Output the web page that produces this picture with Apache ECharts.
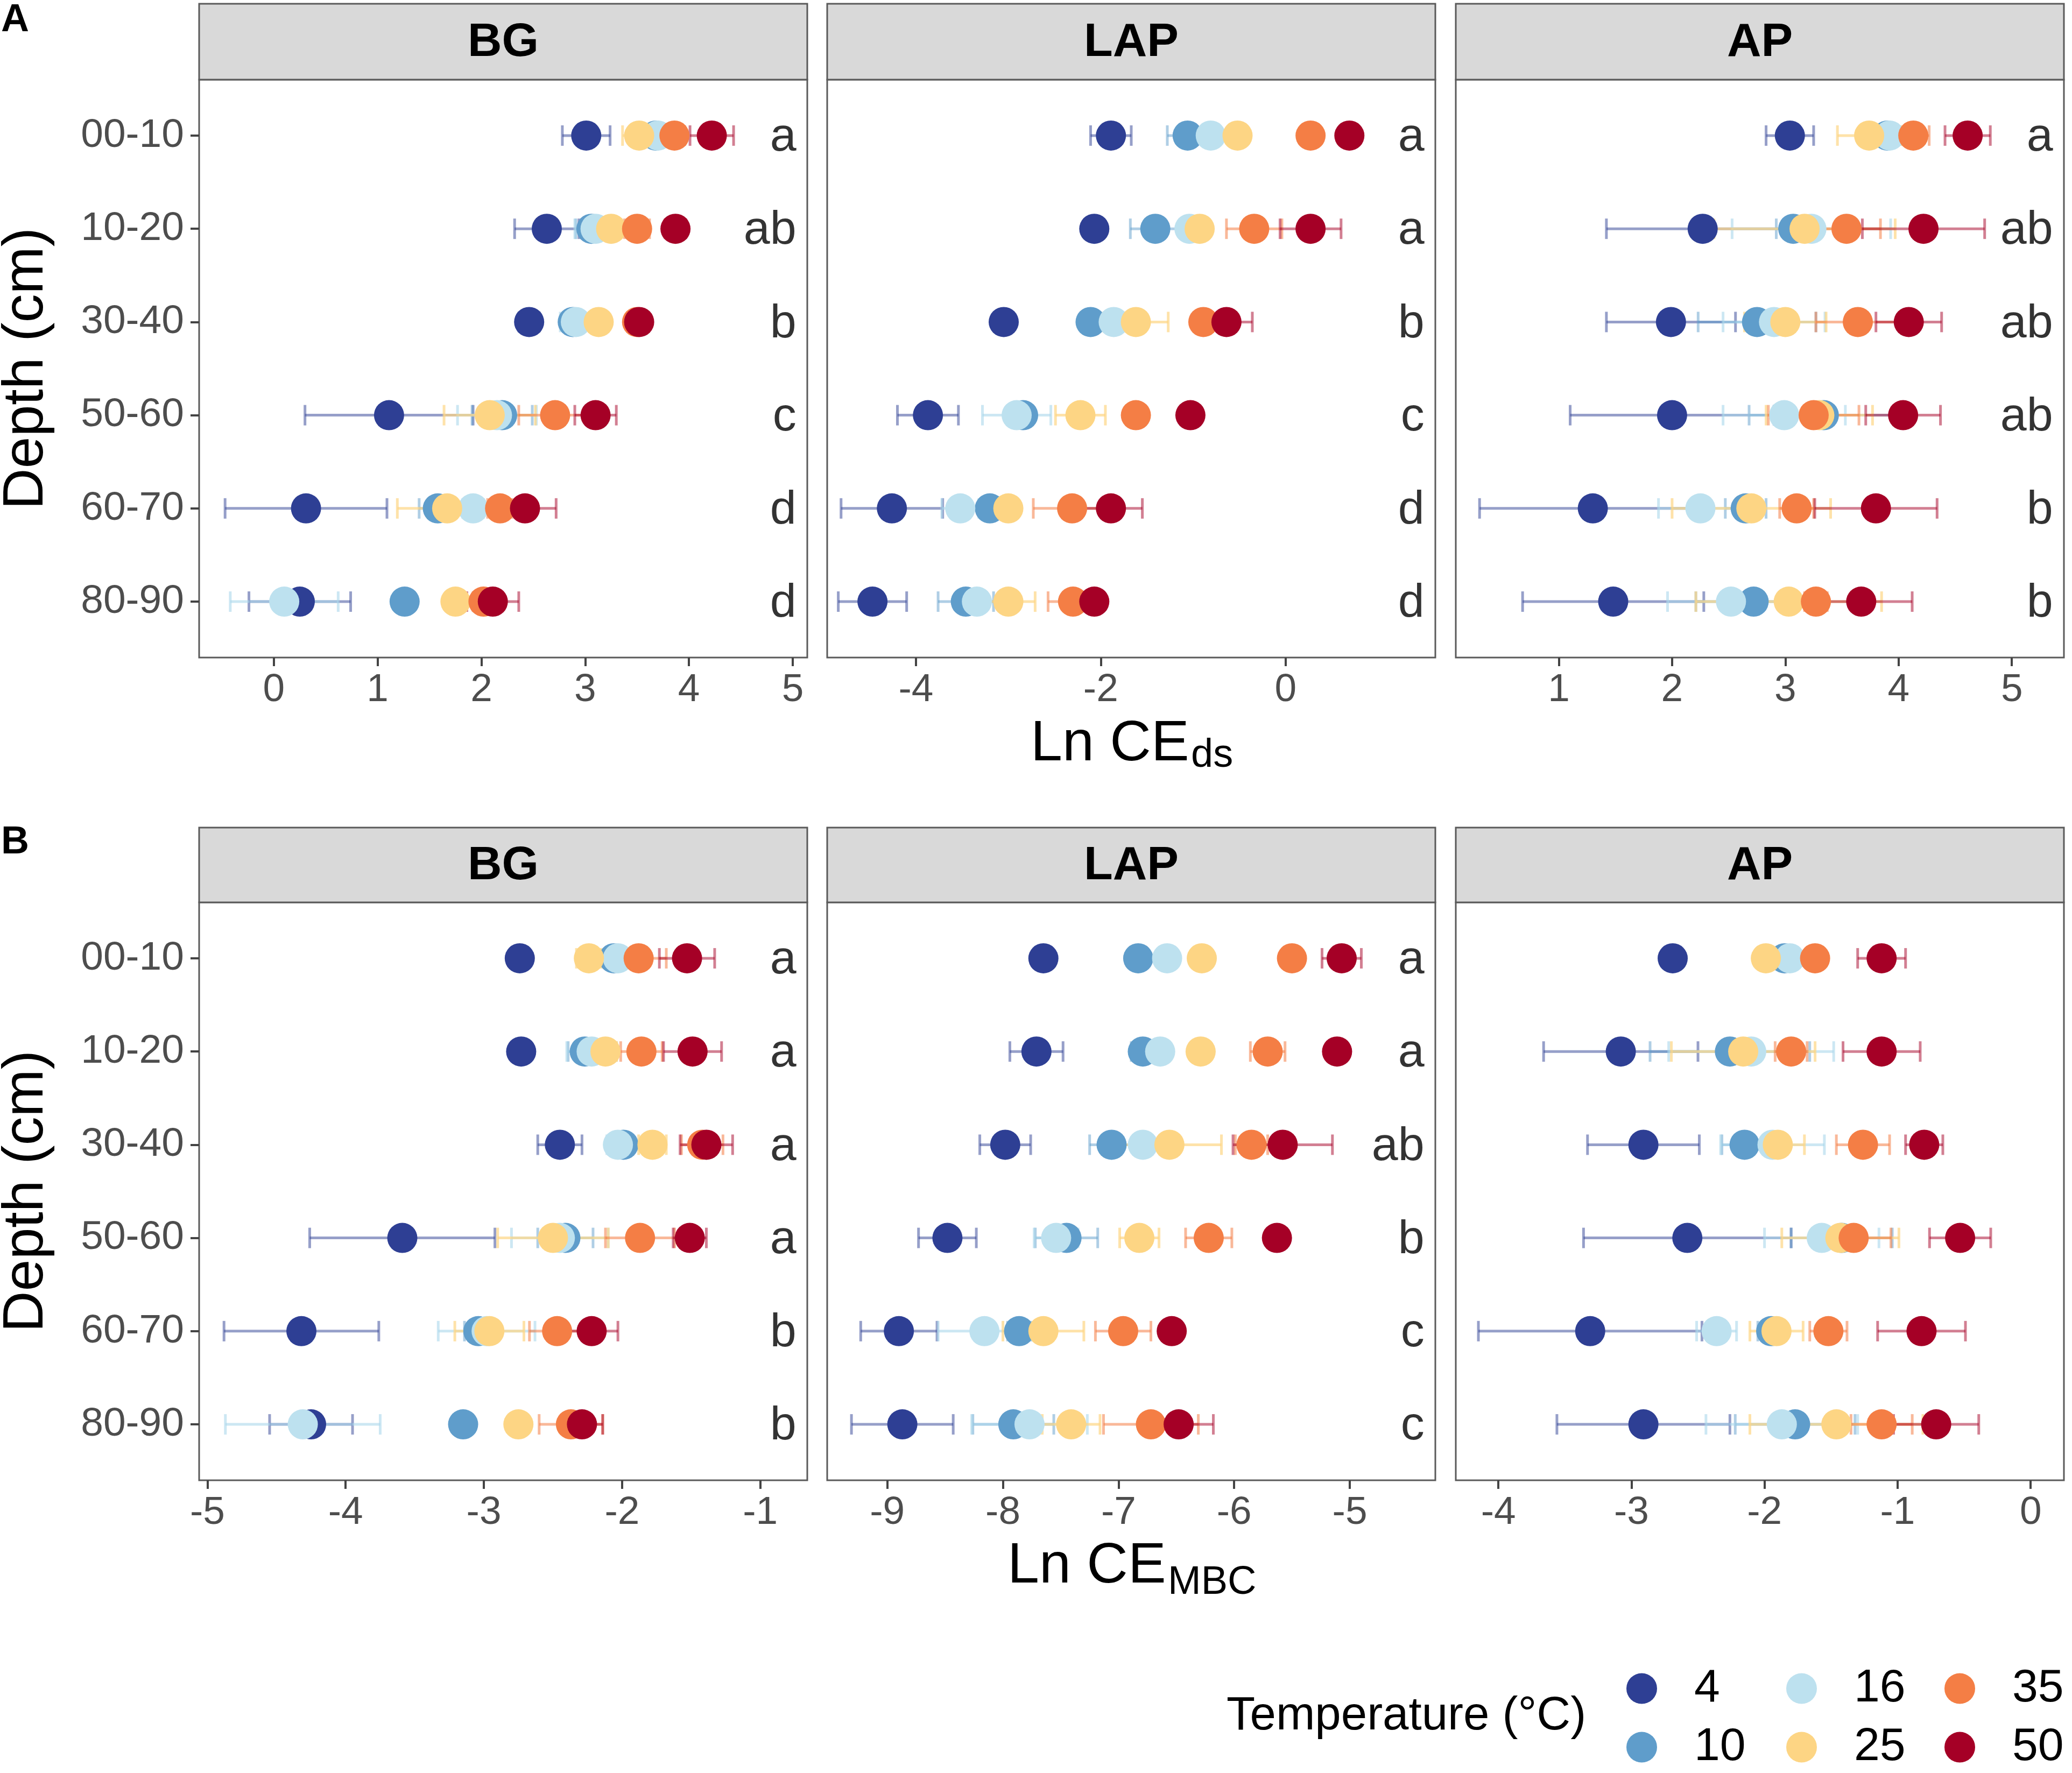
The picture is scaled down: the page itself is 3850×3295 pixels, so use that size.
<!DOCTYPE html>
<html><head><meta charset="utf-8">
<script src="https://cdn.jsdelivr.net/npm/echarts@6/dist/echarts.min.js"></script>
<style>html,body{margin:0;padding:0;background:#fff}#c{width:3850px;height:3295px}</style>
</head><body><div id="c"></div>
<script>
// ---------- DATA ----------
const depths = ['00-10', '10-20', '30-40', '50-60', '60-70', '80-90'];
const temps = ['4', '10', '16', '25', '35', '50'];
const enzymes = ['BG', 'LAP', 'AP'];

const ticksDsBG = [0, 1, 2, 3, 4, 5];
const ticksDsLAP = [-4, -2, 0];
const ticksDsAP = [1, 2, 3, 4, 5];
const ticksMbcBG = [-5, -4, -3, -2, -1];
const ticksMbcLAP = [-9, -8, -7, -6, -5];
const ticksMbcAP = [-4, -3, -2, -1, 0];

// rows = temperatures (4,10,16,25,35,50), columns = depths
const dsBG_mean = [
  [3.01, 2.63, 2.46, 1.11, 0.31, 0.25],
  [3.68, 3.06, 2.88, 2.20, 1.58, 1.26],
  [3.70, 3.10, 2.91, 2.15, 1.92, 0.10],
  [3.52, 3.25, 3.13, 2.08, 1.67, 1.75],
  [3.86, 3.50, 3.50, 2.71, 2.18, 2.02],
  [4.22, 3.87, 3.52, 3.10, 2.42, 2.11]
];
const dsBG_se = [
  [0.23, 0.31, 0.10, 0.81, 0.78, 0.49],
  [0.08, 0.15, 0.08, 0.29, 0.18, 0.06],
  [0.08, 0.20, 0.15, 0.38, 0.10, 0.52],
  [0.16, 0.10, 0.08, 0.44, 0.48, 0.08],
  [0.10, 0.12, 0.08, 0.35, 0.12, 0.10],
  [0.21, 0.10, 0.08, 0.20, 0.30, 0.25]
];
const dsLAP_mean = [
  [-1.89, -2.07, -3.05, -3.87, -4.26, -4.47],
  [-1.06, -1.41, -2.11, -2.84, -3.20, -3.46],
  [-0.81, -1.04, -1.86, -2.91, -3.52, -3.34],
  [-0.52, -0.93, -1.62, -2.22, -3.00, -3.00],
  [0.27, -0.34, -0.89, -1.62, -2.31, -2.30],
  [0.69, 0.27, -0.64, -1.03, -1.89, -2.07]
];
const dsLAP_se = [
  [0.22, 0.08, 0.05, 0.33, 0.55, 0.37],
  [0.22, 0.27, 0.05, 0.10, 0.10, 0.30],
  [0.08, 0.10, 0.05, 0.37, 0.20, 0.10],
  [0.05, 0.05, 0.35, 0.27, 0.10, 0.29],
  [0.05, 0.30, 0.08, 0.05, 0.42, 0.27],
  [0.05, 0.33, 0.28, 0.05, 0.34, 0.05]
];
const dsAP_mean = [
  [3.04, 2.27, 1.99, 2.00, 1.30, 1.48],
  [3.90, 3.07, 2.75, 3.34, 2.65, 2.72],
  [3.92, 3.23, 2.90, 2.99, 2.25, 2.52],
  [3.74, 3.17, 3.00, 3.30, 2.70, 3.03],
  [4.13, 3.54, 3.64, 3.25, 3.10, 3.27],
  [4.61, 4.22, 4.09, 4.04, 3.80, 3.67]
];
const dsAP_se = [
  [0.21, 0.85, 0.57, 0.90, 1.00, 0.80],
  [0.10, 0.15, 0.52, 0.66, 0.18, 0.51],
  [0.10, 0.70, 0.45, 0.54, 0.37, 0.56],
  [0.28, 0.80, 0.36, 0.47, 0.70, 0.82],
  [0.14, 0.30, 0.37, 0.40, 0.15, 0.10],
  [0.20, 0.54, 0.29, 0.33, 0.54, 0.45]
];
const mbcBG_mean = [
  [-2.74, -2.73, -2.45, -3.59, -4.32, -4.25],
  [-2.06, -2.27, -1.99, -2.41, -3.04, -3.15],
  [-2.03, -2.22, -2.03, -2.45, -2.98, -4.31],
  [-2.24, -2.12, -1.78, -2.50, -2.96, -2.75],
  [-1.88, -1.86, -1.42, -1.87, -2.47, -2.37],
  [-1.53, -1.49, -1.39, -1.51, -2.22, -2.29]
];
const mbcBG_se = [
  [0.03, 0.03, 0.16, 0.67, 0.56, 0.30],
  [0.05, 0.12, 0.05, 0.20, 0.10, 0.05],
  [0.05, 0.18, 0.08, 0.35, 0.35, 0.56],
  [0.09, 0.08, 0.10, 0.40, 0.25, 0.05],
  [0.20, 0.15, 0.15, 0.25, 0.20, 0.23],
  [0.20, 0.21, 0.19, 0.12, 0.19, 0.15]
];
const mbcLAP_mean = [
  [-7.65, -7.71, -7.98, -8.48, -8.90, -8.87],
  [-6.83, -6.79, -7.06, -7.45, -7.86, -7.91],
  [-6.58, -6.64, -6.79, -7.54, -8.16, -7.77],
  [-6.28, -6.29, -6.56, -6.82, -7.65, -7.41],
  [-5.50, -5.71, -5.85, -6.22, -6.96, -6.72],
  [-5.07, -5.11, -5.58, -5.63, -6.54, -6.48]
];
const mbcLAP_se = [
  [0.05, 0.23, 0.22, 0.25, 0.33, 0.44],
  [0.05, 0.10, 0.19, 0.27, 0.10, 0.35],
  [0.05, 0.05, 0.05, 0.19, 0.40, 0.50],
  [0.05, 0.05, 0.45, 0.17, 0.35, 0.25],
  [0.05, 0.15, 0.14, 0.20, 0.24, 0.41],
  [0.17, 0.05, 0.43, 0.05, 0.05, 0.30]
];
const mbcAP_mean = [
  [-2.69, -3.08, -2.91, -2.58, -3.31, -2.91],
  [-1.85, -2.26, -2.15, -1.42, -1.95, -1.77],
  [-1.81, -2.10, -1.94, -1.57, -2.36, -1.87],
  [-1.99, -2.16, -1.90, -1.43, -1.91, -1.46],
  [-1.62, -1.80, -1.26, -1.33, -1.52, -1.12],
  [-1.12, -1.12, -0.80, -0.53, -0.82, -0.71]
];
const mbcAP_se = [
  [0.06, 0.58, 0.42, 0.78, 0.84, 0.65],
  [0.05, 0.60, 0.17, 0.38, 0.10, 0.45],
  [0.05, 0.62, 0.39, 0.43, 0.15, 0.57],
  [0.05, 0.54, 0.20, 0.44, 0.20, 0.65],
  [0.05, 0.12, 0.20, 0.28, 0.14, 0.23],
  [0.18, 0.29, 0.14, 0.23, 0.33, 0.32]
];
const dsBG_letters = ['a', 'ab', 'b', 'c', 'd', 'd'];
const dsLAP_letters = ['a', 'a', 'b', 'c', 'd', 'd'];
const dsAP_letters = ['a', 'ab', 'ab', 'ab', 'b', 'b'];
const mbcBG_letters = ['a', 'a', 'a', 'a', 'b', 'b'];
const mbcLAP_letters = ['a', 'a', 'ab', 'b', 'c', 'c'];
const mbcAP_letters = [];

// ---------- STYLE / LAYOUT ----------
const colors = ['#2E3F94', '#5F9DCB', '#BDE1EF', '#FDD584', '#F47E45', '#A50026'];
const errColors = ['rgba(46,63,148,0.5)', 'rgba(95,157,203,0.5)', 'rgba(170,215,235,0.6)',
  'rgba(253,213,132,0.7)', 'rgba(244,126,69,0.55)', 'rgba(165,0,38,0.5)'];
const FONT = '"Liberation Sans", Arial, Helvetica, sans-serif';
const colLeft = [370, 1537, 2705];
const panelW = 1130, panelH = 1074;
const rowTop = [148, 1677];
const stripTop = [7, 1538];

const panels = [
  { mean: dsBG_mean, se: dsBG_se, letters: dsBG_letters, ticks: ticksDsBG, range: [-0.72, 5.14] },
  { mean: dsLAP_mean, se: dsLAP_se, letters: dsLAP_letters, ticks: ticksDsLAP, range: [-4.96, 1.62] },
  { mean: dsAP_mean, se: dsAP_se, letters: dsAP_letters, ticks: ticksDsAP, range: [0.09, 5.46] },
  { mean: mbcBG_mean, se: mbcBG_se, letters: mbcBG_letters, ticks: ticksMbcBG, range: [-5.06, -0.66] },
  { mean: mbcLAP_mean, se: mbcLAP_se, letters: mbcLAP_letters, ticks: ticksMbcLAP, range: [-9.52, -4.26] },
  { mean: mbcAP_mean, se: mbcAP_se, letters: mbcAP_letters, ticks: ticksMbcAP, range: [-4.32, 0.25] }
];

const grid = [], xAxis = [], yAxis = [], scatterSeries = [], errSeries = [], letterSeries = [];
const graphic = [];
const rowIdx = depths.map((d, i) => i);

panels.forEach((p, i) => {
  const row = Math.floor(i / 3), col = i % 3;
  grid.push({ left: colLeft[col], top: rowTop[row], width: panelW, height: panelH,
    show: true, borderColor: '#5a5a5a', borderWidth: 3, backgroundColor: '#fff' });
  xAxis.push({
    type: 'value', gridIndex: i, min: p.range[0], max: p.range[1], position: 'bottom',
    axisLine: { show: false, onZero: false }, splitLine: { show: false },
    axisTick: { show: true, length: 16, customValues: p.ticks, lineStyle: { color: '#444', width: 4 } },
    axisLabel: { customValues: p.ticks, fontSize: 73, color: '#4D4D4D', fontFamily: FONT, margin: 24 }
  });
  yAxis.push({
    type: 'value', gridIndex: i, min: -0.6, max: depths.length - 0.4, inverse: true, position: 'left',
    axisLine: { show: false, onZero: false }, splitLine: { show: false },
    axisTick: { show: col === 0, length: 16, customValues: rowIdx, lineStyle: { color: '#444', width: 4 } },
    axisLabel: { show: col === 0, customValues: rowIdx, formatter: v => depths[Math.round(v)],
      fontSize: 75, color: '#4D4D4D', fontFamily: FONT, margin: 28 }
  });
  temps.forEach((t, k) => {
    errSeries.push({
      type: 'custom', xAxisIndex: i, yAxisIndex: i, silent: true, z: 2,
      data: p.mean[k].map((v, d) => [v - p.se[k][d], v + p.se[k][d], d]),
      encode: { x: [0, 1], y: 2 },
      renderItem: (params, api) => {
        const yv = api.value(2);
        const a = api.coord([api.value(0), yv]);
        const b = api.coord([api.value(1), yv]);
        const h = 19;
        const st = { stroke: errColors[k], lineWidth: 5, fill: null };
        return { type: 'group', children: [
          { type: 'line', shape: { x1: a[0], y1: a[1], x2: b[0], y2: b[1] }, style: st },
          { type: 'line', shape: { x1: a[0], y1: a[1] - h, x2: a[0], y2: a[1] + h }, style: st },
          { type: 'line', shape: { x1: b[0], y1: b[1] - h, x2: b[0], y2: b[1] + h }, style: st }
        ] };
      }
    });
    scatterSeries.push({
      type: 'scatter', name: t, xAxisIndex: i, yAxisIndex: i, z: 3,
      data: p.mean[k].map((v, d) => [v, d]),
      symbol: 'circle', symbolSize: 56,
      itemStyle: { color: colors[k], opacity: 1 },
      emphasis: { disabled: true }
    });
  });
  if (p.letters.length) {
    const xPos = p.range[1] - (p.range[1] - p.range[0]) * 0.018;
    letterSeries.push({
      type: 'scatter', xAxisIndex: i, yAxisIndex: i, z: 4, silent: true,
      symbolSize: 0, data: p.letters.map((l, d) => [xPos, d, l]),
      label: { show: true, position: 'left', distance: 0, formatter: q => q.value[2],
        fontSize: 88, color: '#000', fontFamily: FONT, offset: [0, 4] }
    });
  }
  // facet strip
  graphic.push({ type: 'rect', shape: { x: colLeft[col], y: stripTop[row], width: panelW, height: rowTop[row] - stripTop[row] },
    style: { fill: '#D9D9D9', stroke: '#5a5a5a', lineWidth: 3 }, z: 10 });
  graphic.push({ type: 'text', x: colLeft[col] + panelW / 2, y: (stripTop[row] + rowTop[row]) / 2 + 2, z: 11,
    style: { text: enzymes[col], font: 'bold 88px ' + FONT, fill: '#000', align: 'center', verticalAlign: 'middle' } });
});

// panel tags, axis titles
graphic.push({ type: 'text', x: 2, y: 38, style: { text: 'A', font: 'bold 72px ' + FONT, fill: '#000', align: 'left', verticalAlign: 'middle' } });
graphic.push({ type: 'text', x: 2, y: 1566, style: { text: 'B', font: 'bold 72px ' + FONT, fill: '#000', align: 'left', verticalAlign: 'middle' } });
[rowTop[0] + panelH / 2, rowTop[1] + panelH / 2].forEach(cy => {
  graphic.push({ type: 'text', x: 50, y: cy, rotation: Math.PI / 2,
    style: { text: 'Depth (cm)', font: '106px ' + FONT, fill: '#000', align: 'center', verticalAlign: 'middle' } });
});
graphic.push({ type: 'text', x: 1915, y: 1384, style: { text: 'Ln CE', font: '106px ' + FONT, fill: '#000', align: 'left', verticalAlign: 'middle' } });
graphic.push({ type: 'text', x: 2213, y: 1405, style: { text: 'ds', font: '74px ' + FONT, fill: '#000', align: 'left', verticalAlign: 'middle' } });
graphic.push({ type: 'text', x: 1872, y: 2912, style: { text: 'Ln CE', font: '106px ' + FONT, fill: '#000', align: 'left', verticalAlign: 'middle' } });
graphic.push({ type: 'text', x: 2170, y: 2942, style: { text: 'MBC', font: '74px ' + FONT, fill: '#000', align: 'left', verticalAlign: 'middle' } });
graphic.push({ type: 'text', x: 2279, y: 3190, style: { text: 'Temperature (°C)', font: '87px ' + FONT, fill: '#000', align: 'left', verticalAlign: 'middle' } });

// legend: column-major 2 rows x 3 cols
const legX = [3050, 3347, 3641], legY = [3137, 3246];
const legend = temps.map((t, k) => ({
  data: [t], orient: 'horizontal', padding: 0,
  left: legX[Math.floor(k / 2)] - 28, top: legY[k % 2] - 42,
  icon: 'circle', itemWidth: 57, itemHeight: 57,
  selectedMode: false,
  formatter: n => '{t|' + n + '}',
  textStyle: { fontSize: 86, lineHeight: 84, color: '#000', fontFamily: FONT,
    rich: { t: { fontSize: 86, lineHeight: 84, color: '#000', fontFamily: FONT, padding: [0, 0, 0, 64] } } }
}));

const chart = echarts.init(document.getElementById('c'), null, { renderer: 'canvas' });
chart.setOption({
  animation: false,
  backgroundColor: '#fff',
  grid, xAxis, yAxis, legend, graphic,
  series: [...scatterSeries, ...errSeries, ...letterSeries]
});
</script>
</body></html>
